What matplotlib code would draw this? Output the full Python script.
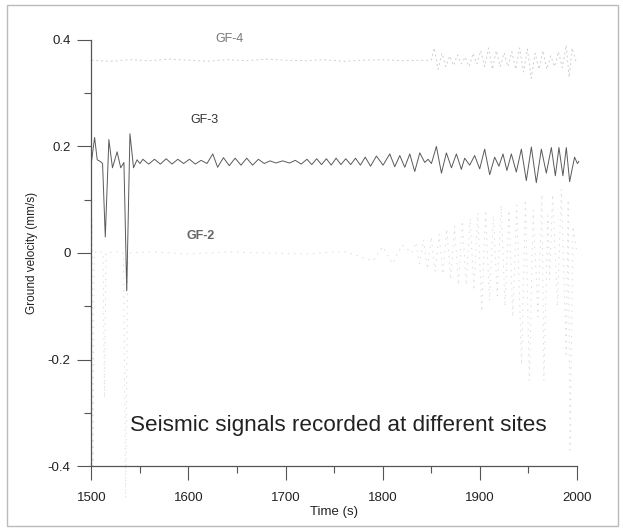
import matplotlib
matplotlib.use("Agg")
import matplotlib.pyplot as plt
from matplotlib.patches import Rectangle
from matplotlib.ticker import MultipleLocator

plt.rcParams["font.family"] = ["Liberation Sans", "DejaVu Sans"]

# GF-3 trace: turning points (time s, velocity mm/s)
gf3_t = [1500.0, 1503.3, 1506.0, 1509.0, 1511.5, 1514.3, 1518.0, 1521.7, 1526.5, 1530.2,
         1533.5, 1536.4, 1539.7, 1543.4, 1547.0, 1550.0, 1553.0, 1559.0, 1565.0, 1571.0,
         1577.0, 1583.0, 1589.0, 1595.0, 1601.0, 1607.0, 1613.0, 1619.0, 1625.0, 1630.0,
         1636.0, 1642.0, 1648.0, 1654.0, 1660.0, 1666.0, 1672.0, 1678.0, 1684.0, 1690.0,
         1697.0, 1704.0, 1710.0, 1716.0, 1722.0, 1727.0, 1732.0, 1737.0, 1742.0, 1747.0,
         1752.0, 1757.0, 1762.0, 1767.0, 1772.0, 1777.0, 1782.0, 1787.5, 1793.5, 1800.4,
         1807.3, 1812.4, 1817.6, 1822.7, 1827.9, 1833.0, 1838.2, 1843.3, 1846.7, 1850.2,
         1855.3, 1860.5, 1865.6, 1870.8, 1875.9, 1881.0, 1884.4, 1889.6, 1894.7, 1899.9,
         1905.0, 1910.2, 1915.3, 1919.7, 1923.9, 1927.9, 1932.5, 1937.6, 1942.8, 1947.9,
         1953.1, 1958.2, 1963.4, 1968.5, 1973.7, 1977.8, 1981.5, 1985.6, 1989.1, 1992.5,
         1997.6, 2000.5, 2002.0]
gf3_v = [0.170, 0.217, 0.175, 0.172, 0.168, 0.030, 0.213, 0.160, 0.190, 0.160,
         0.170, -0.071, 0.224, 0.160, 0.175, 0.168, 0.176, 0.167, 0.176, 0.167,
         0.177, 0.167, 0.176, 0.168, 0.176, 0.167, 0.174, 0.168, 0.186, 0.161,
         0.179, 0.164, 0.178, 0.165, 0.178, 0.165, 0.176, 0.168, 0.173, 0.169,
         0.173, 0.169, 0.174, 0.167, 0.176, 0.166, 0.177, 0.166, 0.177, 0.165,
         0.178, 0.166, 0.177, 0.166, 0.178, 0.165, 0.180, 0.163, 0.182, 0.165,
         0.186, 0.162, 0.183, 0.161, 0.186, 0.153, 0.188, 0.170, 0.176, 0.168,
         0.200, 0.150, 0.188, 0.160, 0.186, 0.157, 0.178, 0.165, 0.183, 0.158,
         0.195, 0.147, 0.180, 0.163, 0.186, 0.155, 0.186, 0.152, 0.195, 0.136,
         0.199, 0.132, 0.195, 0.150, 0.198, 0.145, 0.198, 0.145, 0.198, 0.134,
         0.180, 0.168, 0.172]

# GF-4 trace (faint, near 0.36)
gf4_t = [1500, 1520, 1540, 1560, 1580, 1600, 1620, 1640, 1660, 1680, 1700, 1720, 1740,
         1760, 1780, 1800, 1820, 1840, 1850, 1853, 1857, 1861, 1865, 1869, 1873, 1877,
         1881, 1885, 1889, 1893, 1897, 1901, 1905, 1909, 1913, 1917, 1921, 1925, 1929,
         1933, 1937, 1941, 1945, 1949, 1953, 1957, 1961, 1965, 1969, 1973, 1977, 1981,
         1985, 1989, 1992, 1995, 1999]
gf4_v = [0.362, 0.360, 0.363, 0.361, 0.364, 0.362, 0.360, 0.363, 0.361, 0.364, 0.362,
         0.361, 0.363, 0.360, 0.362, 0.363, 0.361, 0.362, 0.362, 0.385, 0.345, 0.375,
         0.350, 0.370, 0.352, 0.372, 0.355, 0.368, 0.350, 0.375, 0.355, 0.380, 0.350,
         0.385, 0.345, 0.380, 0.350, 0.376, 0.350, 0.378, 0.345, 0.385, 0.340, 0.383,
         0.328, 0.375, 0.345, 0.380, 0.345, 0.370, 0.350, 0.378, 0.348, 0.390, 0.330,
         0.385, 0.360]

# GF-2 trace (faint, near 0)
gf2_t = [1500.0, 1500.8, 1501.6, 1503.0, 1508.0, 1512.0, 1513.5, 1515.0, 1525.0, 1533.0,
         1535.3, 1537.5, 1560, 1600, 1640, 1680, 1720, 1760, 1790, 1800, 1810, 1820,
         1830, 1834, 1838, 1842, 1846, 1850, 1854, 1858, 1862, 1866, 1870, 1874, 1878,
         1882, 1886, 1890, 1894, 1898, 1902, 1906, 1910, 1914, 1918, 1922, 1926, 1930,
         1934, 1938, 1943, 1947, 1951, 1955, 1960, 1964, 1966, 1970, 1972, 1975, 1980,
         1984, 1989, 1991, 1993, 1996, 2000]
gf2_v = [0.000, 0.062, -0.400, 0.000, 0.005, 0.000, -0.272, 0.000, 0.003, 0.000,
         -0.460, 0.000, 0.002, -0.002, 0.002, 0.000, -0.002, 0.003, -0.015, 0.012, -0.02,
         0.015, 0.000, 0.020, -0.020, 0.025, -0.030, 0.030, -0.035, 0.035, -0.040, 0.045,
         -0.050, 0.050, -0.060, 0.060, -0.060, 0.065, -0.070, 0.075, -0.110, 0.080, -0.090,
         0.070, -0.080, 0.090, -0.100, 0.080, -0.120, 0.090, -0.210, 0.100, -0.240, 0.080,
         -0.120, 0.110, -0.240, 0.070, -0.050, 0.110, -0.100, 0.120, -0.190, 0.100, -0.370,
         0.050, 0.000]

x_ticks = [1500, 1600, 1700, 1800, 1900, 2000]
y_ticks = [-0.4, -0.2, 0.0, 0.2, 0.4]
y_tick_labels = ["-0.4", "-0.2", "0", "0.2", "0.4"]

fig = plt.figure(figsize=(6.23, 5.31), dpi=100)
ax = fig.add_axes([0.1467, 0.1224, 0.7793, 0.8023])

ax.plot(gf4_t, gf4_v, color="#cdcdcd", lw=0.7, dashes=(2, 3), clip_on=False)
ax.plot(gf2_t, gf2_v, color="#dcdcdc", lw=0.7, dashes=(1.5, 5), clip_on=False)
ax.plot(gf3_t, gf3_v, color="#5a5a5a", lw=0.7, clip_on=False)

ax.text(1642, 0.402, "GF-4", fontsize=9, color="#777777", ha="center", va="center")
ax.text(1616, 0.25, "GF-3", fontsize=9, color="#333333", ha="center", va="center")
ax.text(1612, 0.032, "GF-2", fontsize=9, color="#666666", ha="center", va="center",
        fontweight="bold")
ax.text(1754, -0.323, "Seismic signals recorded at different sites", fontsize=16.2,
        color="#222222", ha="center", va="center")

ax.set_xlim(1500, 2000)
ax.set_ylim(-0.4, 0.4)
ax.set_xticks(x_ticks)
ax.set_yticks(y_ticks)
ax.set_yticklabels(y_tick_labels)
ax.xaxis.set_minor_locator(MultipleLocator(50))
ax.yaxis.set_minor_locator(MultipleLocator(0.1))

for side in ["top", "right"]:
    ax.spines[side].set_visible(False)
for side in ["left", "bottom"]:
    ax.spines[side].set_color("#555555")
    ax.spines[side].set_linewidth(0.9)

ax.tick_params(which="major", length=10, width=0.8, color="#555555",
               labelsize=9.5, labelcolor="#222222", pad=5)
ax.tick_params(axis="x", which="major", pad=9)
ax.tick_params(which="minor", length=5, width=0.8, color="#555555")
ax.set_xlabel("Time (s)", fontsize=9.5, color="#222222", labelpad=1)
ax.set_ylabel("Ground velocity (mm/s)", fontsize=8.5, color="#222222", labelpad=7)

fig.patches.append(Rectangle((7 / 623, 1 - 526 / 531), 611 / 623, 521 / 531,
                             transform=fig.transFigure, fill=False,
                             ec="#bbbbbb", lw=1))

fig.savefig("out.png", dpi=100)
